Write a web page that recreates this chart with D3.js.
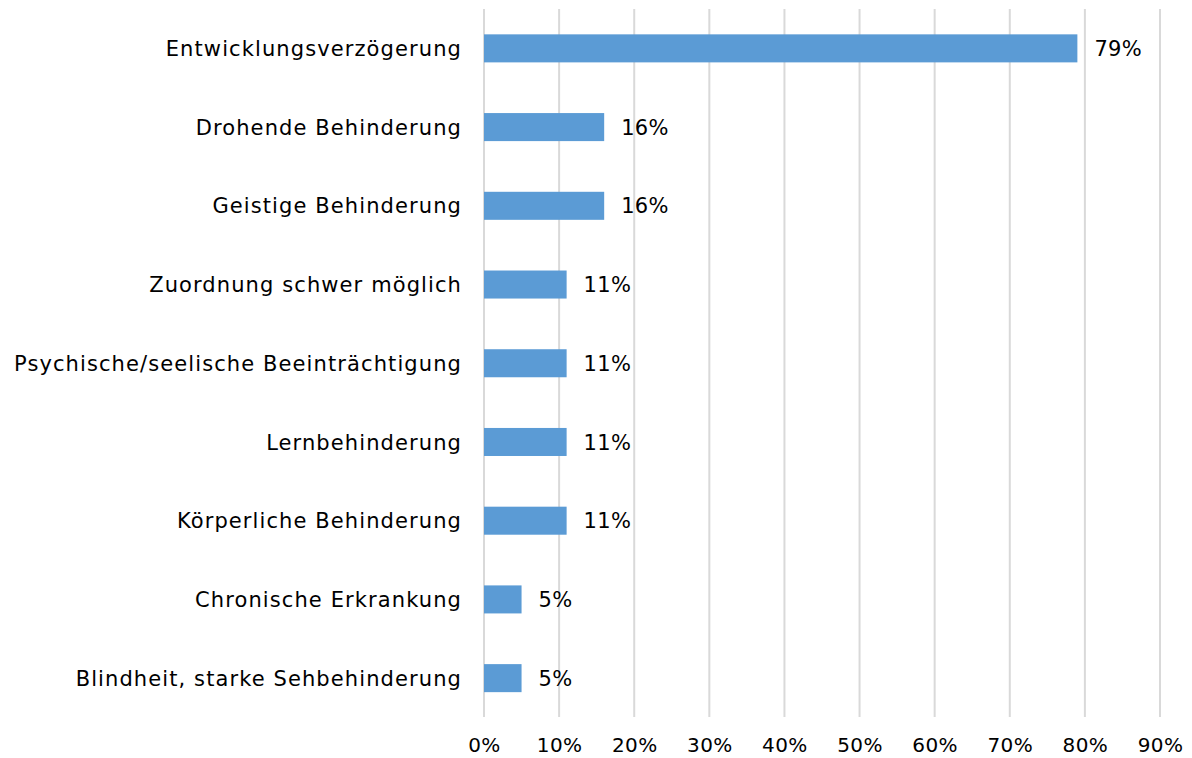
<!DOCTYPE html>
<html>
<head>
<meta charset="utf-8">
<script src="https://cdn.jsdelivr.net/npm/d3@7"></script>
<style>
  body { margin: 0; background: #fff; }
  svg text { font-family: "DejaVu Sans", sans-serif; fill: #000; }
</style>
</head>
<body>
<svg width="1192" height="758"></svg>
<script>
const categories = [
  "Entwicklungsverzögerung",
  "Drohende Behinderung",
  "Geistige Behinderung",
  "Zuordnung schwer möglich",
  "Psychische/seelische Beeinträchtigung",
  "Lernbehinderung",
  "Körperliche Behinderung",
  "Chronische Erkrankung",
  "Blindheit, starke Sehbehinderung"
];
const values = [79, 16, 16, 11, 11, 11, 11, 5, 5];
const tickValues = [0, 10, 20, 30, 40, 50, 60, 70, 80, 90];

const FONT_SIZE = "21px";

const svg = d3.select("svg");
const x = d3.scaleLinear().domain([0, 90]).range([484, 1160]);
const y = d3.scaleBand().domain(categories).range([9, 717.5]).paddingInner(0.644).paddingOuter(0.322);

// gridlines
svg.append("g")
  .selectAll("line")
  .data(tickValues)
  .enter()
  .append("line")
  .attr("x1", d => x(d))
  .attr("x2", d => x(d))
  .attr("y1", 9)
  .attr("y2", 717)
  .attr("stroke", "#d9d9d9")
  .attr("stroke-width", 2);

// x axis labels, baseline just above the bottom edge
const xAxis = d3.axisBottom(x).tickValues(tickValues).tickFormat(d => d + "%").tickSize(0).tickPadding(0);
const ax = svg.append("g").attr("transform", "translate(0,738)").call(xAxis);
ax.select(".domain").remove();
ax.selectAll("text")
  .attr("dy", "0.72em")
  .style("font-size", "20px")
  .style("letter-spacing", "0.4px")
  .style("font-family", '"DejaVu Sans", sans-serif')
  .attr("fill", "#000");

// bars
svg.append("g")
  .selectAll("rect")
  .data(values)
  .enter()
  .append("rect")
  .attr("x", x(0))
  .attr("y", (d, i) => y(categories[i]))
  .attr("width", d => x(d) - x(0))
  .attr("height", y.bandwidth())
  .attr("fill", "#5b9bd5");

// category labels
svg.append("g")
  .selectAll("text")
  .data(categories)
  .enter()
  .append("text")
  .attr("x", 462)
  .attr("y", d => y(d) + y.bandwidth() / 2)
  .attr("dy", "0.36em")
  .attr("text-anchor", "end")
  .style("font-size", FONT_SIZE)
  .style("letter-spacing", "1.1px")
  .text(d => d);

// value labels
svg.append("g")
  .selectAll("text")
  .data(values)
  .enter()
  .append("text")
  .attr("x", d => x(d) + 17)
  .attr("y", (d, i) => y(categories[i]) + y.bandwidth() / 2)
  .attr("dy", "0.36em")
  .style("font-size", FONT_SIZE)
  .style("letter-spacing", "0.3px")
  .text(d => d + "%");
</script>
</body>
</html>
